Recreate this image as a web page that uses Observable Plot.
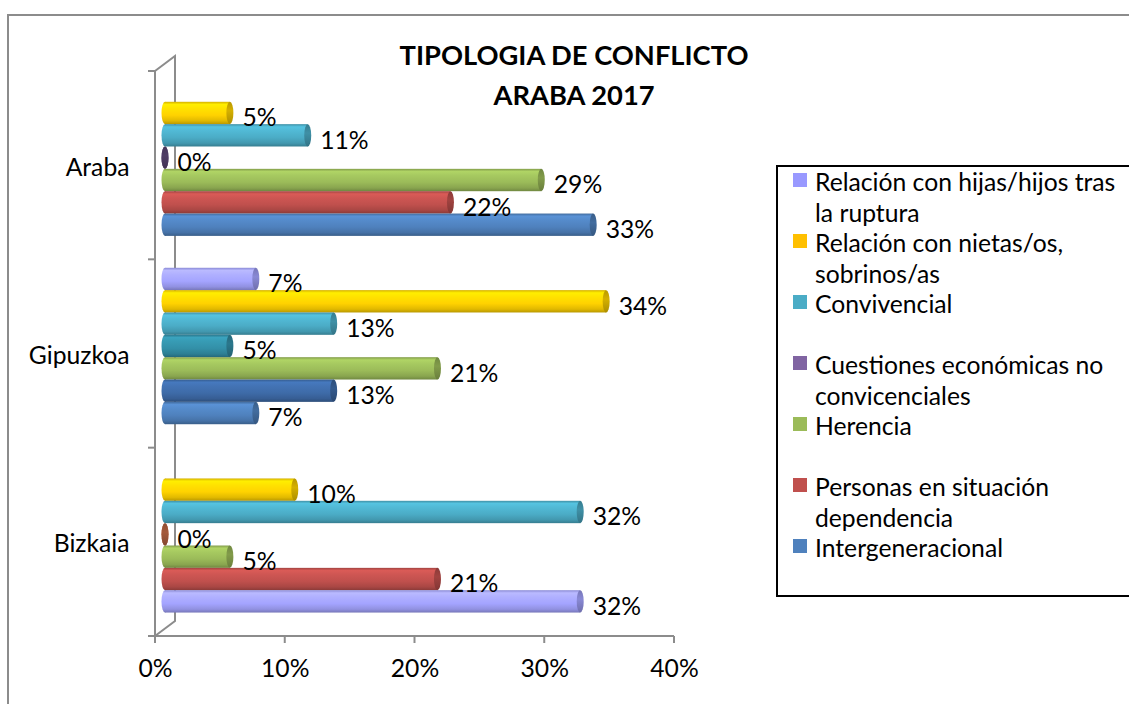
<!DOCTYPE html>
<html>
<head>
<meta charset="utf-8">
<script src="https://cdn.jsdelivr.net/npm/d3@7"></script>
<script src="https://cdn.jsdelivr.net/npm/@observablehq/plot@0.6"></script>
<style>
  body { margin: 0; background: #fff; }
  #wrap { position: relative; width: 1129px; height: 704px; overflow: hidden; font-family: Lato, "Open Sans", sans-serif; color: #000; background: #fff; }
  #chart { position: absolute; left: 0; top: 0; }
  #border { position: absolute; left: 7px; top: 14px; width: 1300px; height: 900px; border-left: 2px solid #8c8c8c; border-top: 2px solid #8c8c8c; }
  #title { position: absolute; left: 274px; width: 600px; top: 35px; text-align: center; font-weight: 700; font-size: 27.3px; line-height: 40px; white-space: nowrap; }
  #legend { position: absolute; left: 776px; top: 165px; width: 420px; height: 432px; border: 2px solid #000; box-sizing: border-box; background: #fff; }
  .item { position: absolute; left: 0; height: 61px; width: 400px; }
  .sw { position: absolute; left: 15px; top: 6px; width: 14px; height: 14px; }
  .lbl { position: absolute; left: 37px; top: 0; font-size: 24.7px; line-height: 30.5px; white-space: nowrap; }
</style>
</head>
<body>
<div id="wrap">
  <div id="chart"></div>
  <div id="border"></div>
  <div id="title"></div>
  <div id="legend"></div>
</div>
<script>
// ---------- data ----------
const categories = ["Araba", "Gipuzkoa", "Bizkaia"];
const series = [
  "Relación con hijas/hijos tras la ruptura",
  "Relación con nietas/os, sobrinos/as",
  "Convivencial",
  "Cuestiones económicas no convicenciales",
  "Herencia",
  "Personas en situación dependencia",
  "Intergeneracional"
];
const legendLines = [
  ["Relación con hijas/hijos tras", "la ruptura"],
  ["Relación con nietas/os,", "sobrinos/as"],
  ["Convivencial"],
  ["Cuestiones económicas no", "convicenciales"],
  ["Herencia"],
  ["Personas en situación", "dependencia"],
  ["Intergeneracional"]
];
const arabaValues    = [null, 0.05, 0.11, 0.00, 0.29, 0.22, 0.33];
const gipuzkoaValues = [0.07, 0.34, 0.13, 0.05, 0.21, 0.13, 0.07];
const bizkaiaValues  = [null, 0.10, 0.32, 0.00, 0.05, 0.21, 0.32];
const xTicks = [0, 0.1, 0.2, 0.3, 0.4];
const xTickLabels = ["0%", "10%", "20%", "30%", "40%"];
const titleLines = ["TIPOLOGIA DE CONFLICTO", "ARABA 2017"];

// ---------- styles ----------
const palette = {
  lavender: "#A4A4FF", yellow: "#FFD200", teal: "#4BACC6", purple: "#604A7B",
  green: "#9BBB59", red: "#C0504D", blue: "#4F81BD", darkteal: "#3390A8",
  darkblue: "#3E6BA8", brown: "#C46A45"
};
const legendColors = ["#9999FF", "#FFC000", "#4BACC6", "#8064A2", "#9BBB59", "#C0504D", "#4F81BD"];
const pointColors = [
  [null, "yellow", "teal", "purple", "green", "red", "blue"],
  ["lavender", "yellow", "teal", "darkteal", "green", "darkblue", "blue"],
  [null, "yellow", "teal", "brown", "green", "red", "lavender"]
];
const gray = "#8c8c8c";
const FONT = "Lato, 'Open Sans', sans-serif";
const FS = 24.7;
const PAD = 16 / 189;
const SLOT = (1 - 2 * PAD) / series.length;

const allValues = [arabaValues, gipuzkoaValues, bizkaiaValues];
const rows = [];
categories.forEach((c, ci) => {
  allValues[ci].forEach((v, si) => {
    if (v == null) return;
    rows.push({category: c, series: series[si], value: v, ci, si, colorKey: pointColors[ci][si]});
  });
});
const y1 = d => d.ci + PAD + d.si * SLOT;
const y2 = d => d.ci + PAD + (d.si + 1) * SLOT;
const yc = d => d.ci + PAD + (d.si + 0.5) * SLOT;

function wallFrame(index, scales, values, dimensions) {
  const x = scales.x, y = scales.y;
  const x0 = x(0), yt = y(0), yb = y(3);
  const g = d3.create("svg:g").attr("fill", "none").attr("stroke", gray).attr("stroke-width", 2);
  g.append("path").attr("d", `M${x0},${yt}L${x0 + 20},${yt - 15}L${x0 + 20},${yb - 15}L${x0},${yb}`);
  g.append("path").attr("d", `M${x0},${yt}L${x0},${yb}`);
  g.append("path").attr("d", `M${x0 - 7},${yb}L${x(0.4)},${yb}`);
  for (let k = 0; k <= categories.length; k++) {
    g.append("path").attr("d", `M${x0 - 7},${y(k)}L${x0},${y(k)}`);
  }
  for (const t of xTicks) {
    g.append("path").attr("d", `M${x(t)},${yb}L${x(t)},${yb + 7}`);
  }
  return g.node();
}

const svg = Plot.plot({
  width: 1129,
  height: 704,
  marginLeft: 155,
  marginRight: 455,
  marginTop: 71,
  marginBottom: 68,
  style: {fontFamily: FONT, fontSize: FS + "px", background: "transparent", color: "#000"},
  x: {domain: [0, 0.4], axis: null},
  y: {domain: [0, 3], reverse: true, axis: null},
  color: {type: "identity"},
  marks: [
    wallFrame,
    Plot.rect(rows, {x1: 0, x2: 0, y1, y2, dx: 10, dy: -7.5, insetLeft: -3.5, insetRight: -3.5, rx: 3.5, ry: 11.2,
      fill: d => `url(#cyl-${d.colorKey})`}),
    Plot.rect(rows, {x1: 0, x2: "value", y1, y2, dx: 10, dy: -7.5, fill: d => `url(#cyl-${d.colorKey})`}),
    Plot.rect(rows, {x1: "value", x2: "value", y1, y2, dx: 10, dy: -7.5, insetLeft: -3.5, insetRight: -3.5, rx: 3.5, ry: 11.2,
      fill: d => `url(#cap-${d.colorKey})`}),
    Plot.text(rows, {x: "value", y: yc, text: d => d3.format(".0%")(d.value), dx: 22, dy: -2.5,
      textAnchor: "start", lineAnchor: "middle", fontSize: FS, fill: "#000"}),
    Plot.text(categories, {y: (d, i) => i + 0.5, text: d => d, frameAnchor: "left", dx: -26, dy: 2,
      textAnchor: "end", lineAnchor: "middle", fontSize: FS, fill: "#000"}),
    Plot.text(xTicks, {x: d => d, text: (d, i) => xTickLabels[i], frameAnchor: "bottom", dy: 33,
      textAnchor: "middle", lineAnchor: "middle", fontSize: FS, fill: "#000"})
  ]
});

const defs = d3.select(svg).insert("defs", ":first-child");
for (const [key, base] of Object.entries(palette)) {
  const c = d3.color(base);
  const lg = defs.append("linearGradient").attr("id", "cyl-" + key)
    .attr("x1", 0).attr("y1", 0).attr("x2", 0).attr("y2", 1);
  const stops = [
    [0, c.darker(0.5)], [0.12, c.brighter(0.35)], [0.3, c.brighter(0.2)],
    [0.6, c], [0.85, c.darker(0.35)], [1, c.darker(0.9)]
  ];
  for (const [o, col] of stops) lg.append("stop").attr("offset", o).attr("stop-color", col.formatHex());
  const cg = defs.append("linearGradient").attr("id", "cap-" + key)
    .attr("x1", 0).attr("y1", 0).attr("x2", 0).attr("y2", 1);
  const cstops = [[0, c.darker(0.9)], [0.4, c.darker(0.5)], [1, c.darker(1.1)]];
  for (const [o, col] of cstops) cg.append("stop").attr("offset", o).attr("stop-color", col.formatHex());
}
document.getElementById("chart").appendChild(svg);

const title = document.getElementById("title");
titleLines.forEach(t => { const d = document.createElement("div"); d.textContent = t; title.appendChild(d); });

const legend = document.getElementById("legend");
series.forEach((s, i) => {
  const item = document.createElement("div");
  item.className = "item";
  item.style.top = (61 * i) + "px";
  const sw = document.createElement("div");
  sw.className = "sw";
  sw.style.background = legendColors[i];
  const lbl = document.createElement("div");
  lbl.className = "lbl";
  lbl.innerHTML = legendLines[i].map(t => t.replace(/&/g, "&amp;").replace(/</g, "&lt;")).join("<br>");
  item.appendChild(sw);
  item.appendChild(lbl);
  legend.appendChild(item);
});
</script>
</body>
</html>
